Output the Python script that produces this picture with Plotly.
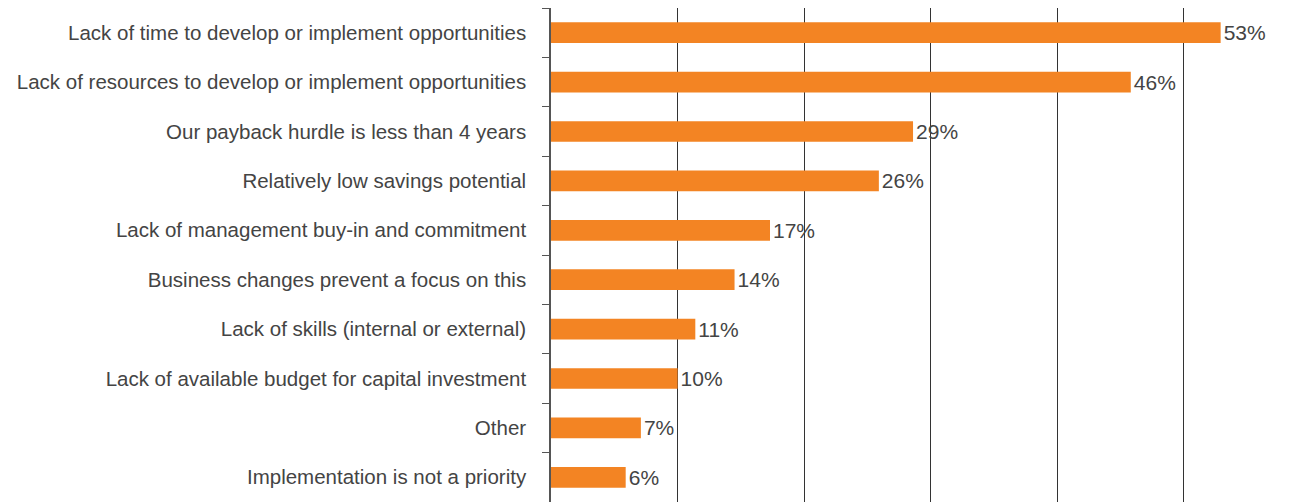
import plotly.graph_objects as go

categories = [
    "Lack of time to develop or implement opportunities",
    "Lack of resources to develop or implement opportunities",
    "Our payback hurdle is less than 4 years",
    "Relatively low savings potential",
    "Lack of management buy-in and commitment",
    "Business changes prevent a focus on this",
    "Lack of skills (internal or external)",
    "Lack of available budget for capital investment",
    "Other",
    "Implementation is not a priority",
]
values = [52.9, 45.8, 28.6, 25.9, 17.3, 14.5, 11.4, 10.0, 7.1, 5.9]
labels = ["53%", "46%", "29%", "26%", "17%", "14%", "11%", "10%", "7%", "6%"]

fig = go.Figure(go.Bar(
    x=values,
    y=categories,
    orientation="h",
    marker=dict(color="#F38423", line=dict(width=0)),
    width=0.42,
    text=labels,
    textposition="outside",
    constraintext="none",
    cliponaxis=False,
    textfont=dict(family="Liberation Sans", size=21, color="#444444"),
    hoverinfo="skip",
))

# page body has an 8px margin, so the figure is shifted by that amount
fig.update_layout(
    width=1300, height=494,
    margin=dict(l=543, r=0, t=0, b=0, autoexpand=False),
    paper_bgcolor="white", plot_bgcolor="white",
    showlegend=False,
    font=dict(family="Liberation Sans", size=20.5, color="#444444"),
    xaxis=dict(
        range=[0, 59.8],
        dtick=10,
        showgrid=True, gridcolor="#333333", gridwidth=1,
        showticklabels=False, zeroline=False, showline=False,
        automargin=False,
    ),
    yaxis=dict(
        autorange="reversed",
        showline=True, linecolor="#555555", linewidth=1.5,
        ticks="outside", tickson="boundaries", ticklen=7, tickcolor="#555555",
        ticklabelstandoff=19,
        showgrid=False,
        automargin=False,
    ),
)

fig.write_html("out.html")
